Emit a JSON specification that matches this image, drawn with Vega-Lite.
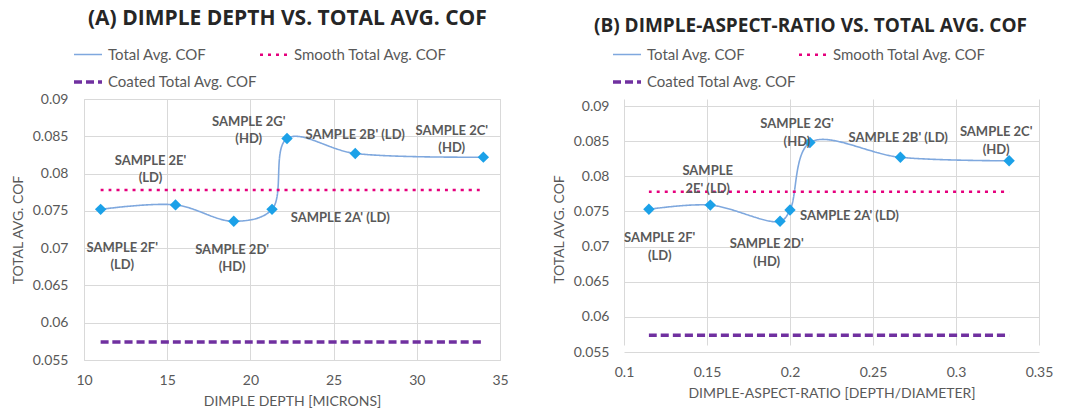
{
  "$schema": "https://vega.github.io/schema/vega-lite/v6.json",
  "background": "white",
  "padding": {"left": 10, "top": 7, "right": 5, "bottom": 0},
  "config": {
    "font": "Lato",
    "view": {"stroke": "#D9D9D9"},
    "axis": {"labelFont": "Lato", "labelFontSize": 14, "labelColor": "#595959", "titleFont": "Lato", "titleFontSize": 14, "titleFontWeight": "normal", "titleColor": "#595959", "gridColor": "#D9D9D9", "domain": false, "ticks": false, "labelOverlap": false, "labelFlush": false},
    "title": {"font": "Open Sans", "fontSize": 19, "fontWeight": "bold", "color": "#262626"},
    "legend": {"labelLimit": 400}
  },
  "datasets": {
    "left": [
      {"sample": "2F'", "x": 11.0, "series": "Total Avg. COF", "cof": 0.0752},
      {"sample": "2E'", "x": 15.5, "series": "Total Avg. COF", "cof": 0.0758},
      {"sample": "2D'", "x": 19.0, "series": "Total Avg. COF", "cof": 0.0736},
      {"sample": "2A'", "x": 21.3, "series": "Total Avg. COF", "cof": 0.0752},
      {"sample": "2G'", "x": 22.2, "series": "Total Avg. COF", "cof": 0.0847},
      {"sample": "2B'", "x": 26.3, "series": "Total Avg. COF", "cof": 0.0827},
      {"sample": "2C'", "x": 34.0, "series": "Total Avg. COF", "cof": 0.0822},
      {"sample": "2F'", "x": 11.0, "series": "Smooth Total Avg. COF", "cof": 0.0778},
      {"sample": "2E'", "x": 15.5, "series": "Smooth Total Avg. COF", "cof": 0.0778},
      {"sample": "2D'", "x": 19.0, "series": "Smooth Total Avg. COF", "cof": 0.0778},
      {"sample": "2A'", "x": 21.3, "series": "Smooth Total Avg. COF", "cof": 0.0778},
      {"sample": "2G'", "x": 22.2, "series": "Smooth Total Avg. COF", "cof": 0.0778},
      {"sample": "2B'", "x": 26.3, "series": "Smooth Total Avg. COF", "cof": 0.0778},
      {"sample": "2C'", "x": 34.0, "series": "Smooth Total Avg. COF", "cof": 0.0778},
      {"sample": "2F'", "x": 11.0, "series": "Coated Total Avg. COF", "cof": 0.0574},
      {"sample": "2E'", "x": 15.5, "series": "Coated Total Avg. COF", "cof": 0.0574},
      {"sample": "2D'", "x": 19.0, "series": "Coated Total Avg. COF", "cof": 0.0574},
      {"sample": "2A'", "x": 21.3, "series": "Coated Total Avg. COF", "cof": 0.0574},
      {"sample": "2G'", "x": 22.2, "series": "Coated Total Avg. COF", "cof": 0.0574},
      {"sample": "2B'", "x": 26.3, "series": "Coated Total Avg. COF", "cof": 0.0574},
      {"sample": "2C'", "x": 34.0, "series": "Coated Total Avg. COF", "cof": 0.0574}
    ],
    "leftLabels": [
      {"lx": 12.3, "ly": 0.0700, "label": "SAMPLE 2F'\n(LD)"},
      {"lx": 14.0, "ly": 0.0817, "label": "SAMPLE 2E'\n(LD)"},
      {"lx": 18.9, "ly": 0.0698, "label": "SAMPLE 2D'\n(HD)"},
      {"lx": 25.4, "ly": 0.0740, "label": "SAMPLE 2A' (LD)"},
      {"lx": 19.9, "ly": 0.0869, "label": "SAMPLE 2G'\n(HD)"},
      {"lx": 26.3, "ly": 0.0852, "label": "SAMPLE 2B' (LD)"},
      {"lx": 32.1, "ly": 0.0857, "label": "SAMPLE 2C'\n(HD)"}
    ],
    "right": [
      {"sample": "2F'", "x": 0.115, "series": "Total Avg. COF", "cof": 0.0753},
      {"sample": "2E'", "x": 0.152, "series": "Total Avg. COF", "cof": 0.0759},
      {"sample": "2D'", "x": 0.194, "series": "Total Avg. COF", "cof": 0.0736},
      {"sample": "2A'", "x": 0.200, "series": "Total Avg. COF", "cof": 0.0752},
      {"sample": "2G'", "x": 0.212, "series": "Total Avg. COF", "cof": 0.0848},
      {"sample": "2B'", "x": 0.2665, "series": "Total Avg. COF", "cof": 0.0827},
      {"sample": "2C'", "x": 0.332, "series": "Total Avg. COF", "cof": 0.0822},
      {"sample": "2F'", "x": 0.115, "series": "Smooth Total Avg. COF", "cof": 0.0778},
      {"sample": "2E'", "x": 0.152, "series": "Smooth Total Avg. COF", "cof": 0.0778},
      {"sample": "2D'", "x": 0.194, "series": "Smooth Total Avg. COF", "cof": 0.0778},
      {"sample": "2A'", "x": 0.200, "series": "Smooth Total Avg. COF", "cof": 0.0778},
      {"sample": "2G'", "x": 0.212, "series": "Smooth Total Avg. COF", "cof": 0.0778},
      {"sample": "2B'", "x": 0.2665, "series": "Smooth Total Avg. COF", "cof": 0.0778},
      {"sample": "2C'", "x": 0.332, "series": "Smooth Total Avg. COF", "cof": 0.0778},
      {"sample": "2F'", "x": 0.115, "series": "Coated Total Avg. COF", "cof": 0.0574},
      {"sample": "2E'", "x": 0.152, "series": "Coated Total Avg. COF", "cof": 0.0574},
      {"sample": "2D'", "x": 0.194, "series": "Coated Total Avg. COF", "cof": 0.0574},
      {"sample": "2A'", "x": 0.200, "series": "Coated Total Avg. COF", "cof": 0.0574},
      {"sample": "2G'", "x": 0.212, "series": "Coated Total Avg. COF", "cof": 0.0574},
      {"sample": "2B'", "x": 0.2665, "series": "Coated Total Avg. COF", "cof": 0.0574},
      {"sample": "2C'", "x": 0.332, "series": "Coated Total Avg. COF", "cof": 0.0574}
    ],
    "rightLabels": [
      {"lx": 0.1215, "ly": 0.0712, "label": "SAMPLE 2F'\n(LD)"},
      {"lx": 0.1504, "ly": 0.0807, "label": "SAMPLE\n2E' (LD)"},
      {"lx": 0.186, "ly": 0.0704, "label": "SAMPLE 2D'\n(HD)"},
      {"lx": 0.2358, "ly": 0.0744, "label": "SAMPLE 2A' (LD)"},
      {"lx": 0.2042, "ly": 0.0875, "label": "SAMPLE 2G'\n(HD)"},
      {"lx": 0.2652, "ly": 0.0855, "label": "SAMPLE 2B' (LD)"},
      {"lx": 0.3242, "ly": 0.0863, "label": "SAMPLE 2C'\n(HD)"}
    ]
  },
  "spacing": 43,
  "resolve": {"scale": {"color": "independent", "strokeDash": "independent", "strokeWidth": "independent"}, "legend": {"color": "independent", "strokeDash": "independent"}},
  "hconcat": [
    {
      "vconcat": [
        {
          "width": 416,
          "height": 261,
          "title": {"text": "(A) DIMPLE DEPTH VS. TOTAL AVG. COF", "offset": 63, "anchor": "start", "frame": "group", "dx": 4, "fontSize": 21},
          "layer": [
            {
              "data": {"name": "left"},
              "mark": {"type": "line", "interpolate": "catmull-rom"},
              "encoding": {
                "x": {"field": "x", "type": "quantitative", "title": "DIMPLE DEPTH [MICRONS]", "scale": {"domain": [10, 35], "nice": false, "zero": false}, "axis": {"values": [10, 15, 20, 25, 30, 35], "tickCount": 10, "labelPadding": 13, "titlePadding": 7, "labelFlush": false, "labelOverlap": false}},
                "y": {"field": "cof", "type": "quantitative", "title": "TOTAL AVG. COF", "scale": {"domain": [0.055, 0.09], "nice": false, "zero": false}, "axis": {"values": [0.055, 0.06, 0.065, 0.07, 0.075, 0.08, 0.085, 0.09], "tickCount": 10, "format": ".3~f", "labelPadding": 16, "titlePadding": 7, "labelFlush": false, "labelOverlap": false}},
                "color": {"field": "series", "type": "nominal", "scale": {"domain": ["Total Avg. COF", "Smooth Total Avg. COF", "Coated Total Avg. COF"], "range": ["#7FA8DE", "#E5007D", "#7030A0"]},
                  "legend": {"title": null, "orient": "none", "legendX": -12, "legendY": -60, "direction": "horizontal", "columns": 2, "symbolType": "stroke", "symbolSize": 784, "symbolStrokeWidth": 3, "labelFont": "Lato", "labelFontSize": 15, "labelColor": "#595959", "labelOffset": 4, "labelLimit": 400, "columnPadding": -7, "rowPadding": 3}},
                "strokeDash": {"field": "series", "type": "nominal", "scale": {"domain": ["Total Avg. COF", "Smooth Total Avg. COF", "Coated Total Avg. COF"], "range": [[1, 0], [3, 5], [8, 4]]},
                  "legend": {"title": null, "orient": "none", "legendX": -12, "legendY": -60, "direction": "horizontal", "columns": 2, "symbolType": "stroke", "symbolSize": 784, "symbolStrokeWidth": 3, "labelFont": "Lato", "labelFontSize": 15, "labelColor": "#595959", "labelOffset": 4, "labelLimit": 400, "columnPadding": -7, "rowPadding": 3}},
                "strokeWidth": {"field": "series", "type": "nominal", "scale": {"domain": ["Total Avg. COF", "Smooth Total Avg. COF", "Coated Total Avg. COF"], "range": [1.6, 3.5, 3]}, "legend": null}
              }
            },
            {
              "data": {"name": "left"},
              "transform": [{"filter": "datum.series === 'Total Avg. COF'"}],
              "mark": {"type": "point", "shape": "diamond", "filled": true, "size": 130, "color": "#1BA1E8", "opacity": 1},
              "encoding": {
                "x": {"field": "x", "type": "quantitative", "title": "DIMPLE DEPTH [MICRONS]"},
                "y": {"field": "cof", "type": "quantitative", "title": "TOTAL AVG. COF"}
              }
            },
            {
              "data": {"name": "leftLabels"},
              "mark": {"type": "text", "font": "Lato", "fontWeight": "bold", "fontSize": 13, "color": "#595959", "lineBreak": "\n", "align": "center", "baseline": "middle", "lineHeight": 17},
              "encoding": {
                "x": {"field": "lx", "type": "quantitative", "title": "DIMPLE DEPTH [MICRONS]"},
                "y": {"field": "ly", "type": "quantitative", "title": "TOTAL AVG. COF"},
                "text": {"field": "label", "type": "nominal"}
              }
            }
          ]
        }
      ]
    },
    {
      "vconcat": [
        {
          "width": 415,
          "height": 253,
          "view": {"stroke": null},
          "title": {"text": "(B) DIMPLE-ASPECT-RATIO VS. TOTAL AVG. COF", "offset": 63, "anchor": "start", "frame": "group", "dx": -30, "fontSize": 19},
          "layer": [
            {
              "data": {"name": "right"},
              "mark": {"type": "line", "interpolate": "catmull-rom"},
              "encoding": {
                "x": {"field": "x", "type": "quantitative", "title": "DIMPLE-ASPECT-RATIO  [DEPTH/DIAMETER]", "scale": {"domain": [0.1, 0.35], "nice": false, "zero": false}, "axis": {"values": [0.1, 0.15, 0.2, 0.25, 0.3, 0.35], "tickCount": 10, "format": ".2~f", "labelPadding": 13, "titlePadding": 7, "labelFlush": false, "labelOverlap": false}},
                "y": {"field": "cof", "type": "quantitative", "title": "TOTAL AVG. COF", "scale": {"domain": [0.055, 0.09], "range": [253, 7], "nice": false, "zero": false}, "axis": {"values": [0.055, 0.06, 0.065, 0.07, 0.075, 0.08, 0.085, 0.09], "tickCount": 10, "format": ".3~f", "labelPadding": 15, "titlePadding": 7, "labelFlush": false, "labelOverlap": false}},
                "color": {"field": "series", "type": "nominal", "scale": {"domain": ["Total Avg. COF", "Smooth Total Avg. COF", "Coated Total Avg. COF"], "range": ["#7FA8DE", "#E5007D", "#7030A0"]},
                  "legend": {"title": null, "orient": "none", "legendX": -13, "legendY": -60, "direction": "horizontal", "columns": 2, "symbolType": "stroke", "symbolSize": 784, "symbolStrokeWidth": 3, "labelFont": "Lato", "labelFontSize": 15, "labelColor": "#595959", "labelOffset": 4, "labelLimit": 400, "columnPadding": -7, "rowPadding": 3}},
                "strokeDash": {"field": "series", "type": "nominal", "scale": {"domain": ["Total Avg. COF", "Smooth Total Avg. COF", "Coated Total Avg. COF"], "range": [[1, 0], [3, 5], [8, 4]]},
                  "legend": {"title": null, "orient": "none", "legendX": -13, "legendY": -60, "direction": "horizontal", "columns": 2, "symbolType": "stroke", "symbolSize": 784, "symbolStrokeWidth": 3, "labelFont": "Lato", "labelFontSize": 15, "labelColor": "#595959", "labelOffset": 4, "labelLimit": 400, "columnPadding": -7, "rowPadding": 3}},
                "strokeWidth": {"field": "series", "type": "nominal", "scale": {"domain": ["Total Avg. COF", "Smooth Total Avg. COF", "Coated Total Avg. COF"], "range": [1.6, 3.5, 3]}, "legend": null}
              }
            },
            {
              "data": {"name": "right"},
              "transform": [{"filter": "datum.series === 'Total Avg. COF'"}],
              "mark": {"type": "point", "shape": "diamond", "filled": true, "size": 130, "color": "#1BA1E8", "opacity": 1},
              "encoding": {
                "x": {"field": "x", "type": "quantitative", "title": "DIMPLE-ASPECT-RATIO  [DEPTH/DIAMETER]"},
                "y": {"field": "cof", "type": "quantitative", "title": "TOTAL AVG. COF"}
              }
            },
            {
              "data": {"name": "rightLabels"},
              "mark": {"type": "text", "font": "Lato", "fontWeight": "bold", "fontSize": 13, "color": "#595959", "lineBreak": "\n", "align": "center", "baseline": "middle", "lineHeight": 18},
              "encoding": {
                "x": {"field": "lx", "type": "quantitative", "title": "DIMPLE-ASPECT-RATIO  [DEPTH/DIAMETER]"},
                "y": {"field": "ly", "type": "quantitative", "title": "TOTAL AVG. COF"},
                "text": {"field": "label", "type": "nominal"}
              }
            }
          ]
        }
      ]
    }
  ]
}
